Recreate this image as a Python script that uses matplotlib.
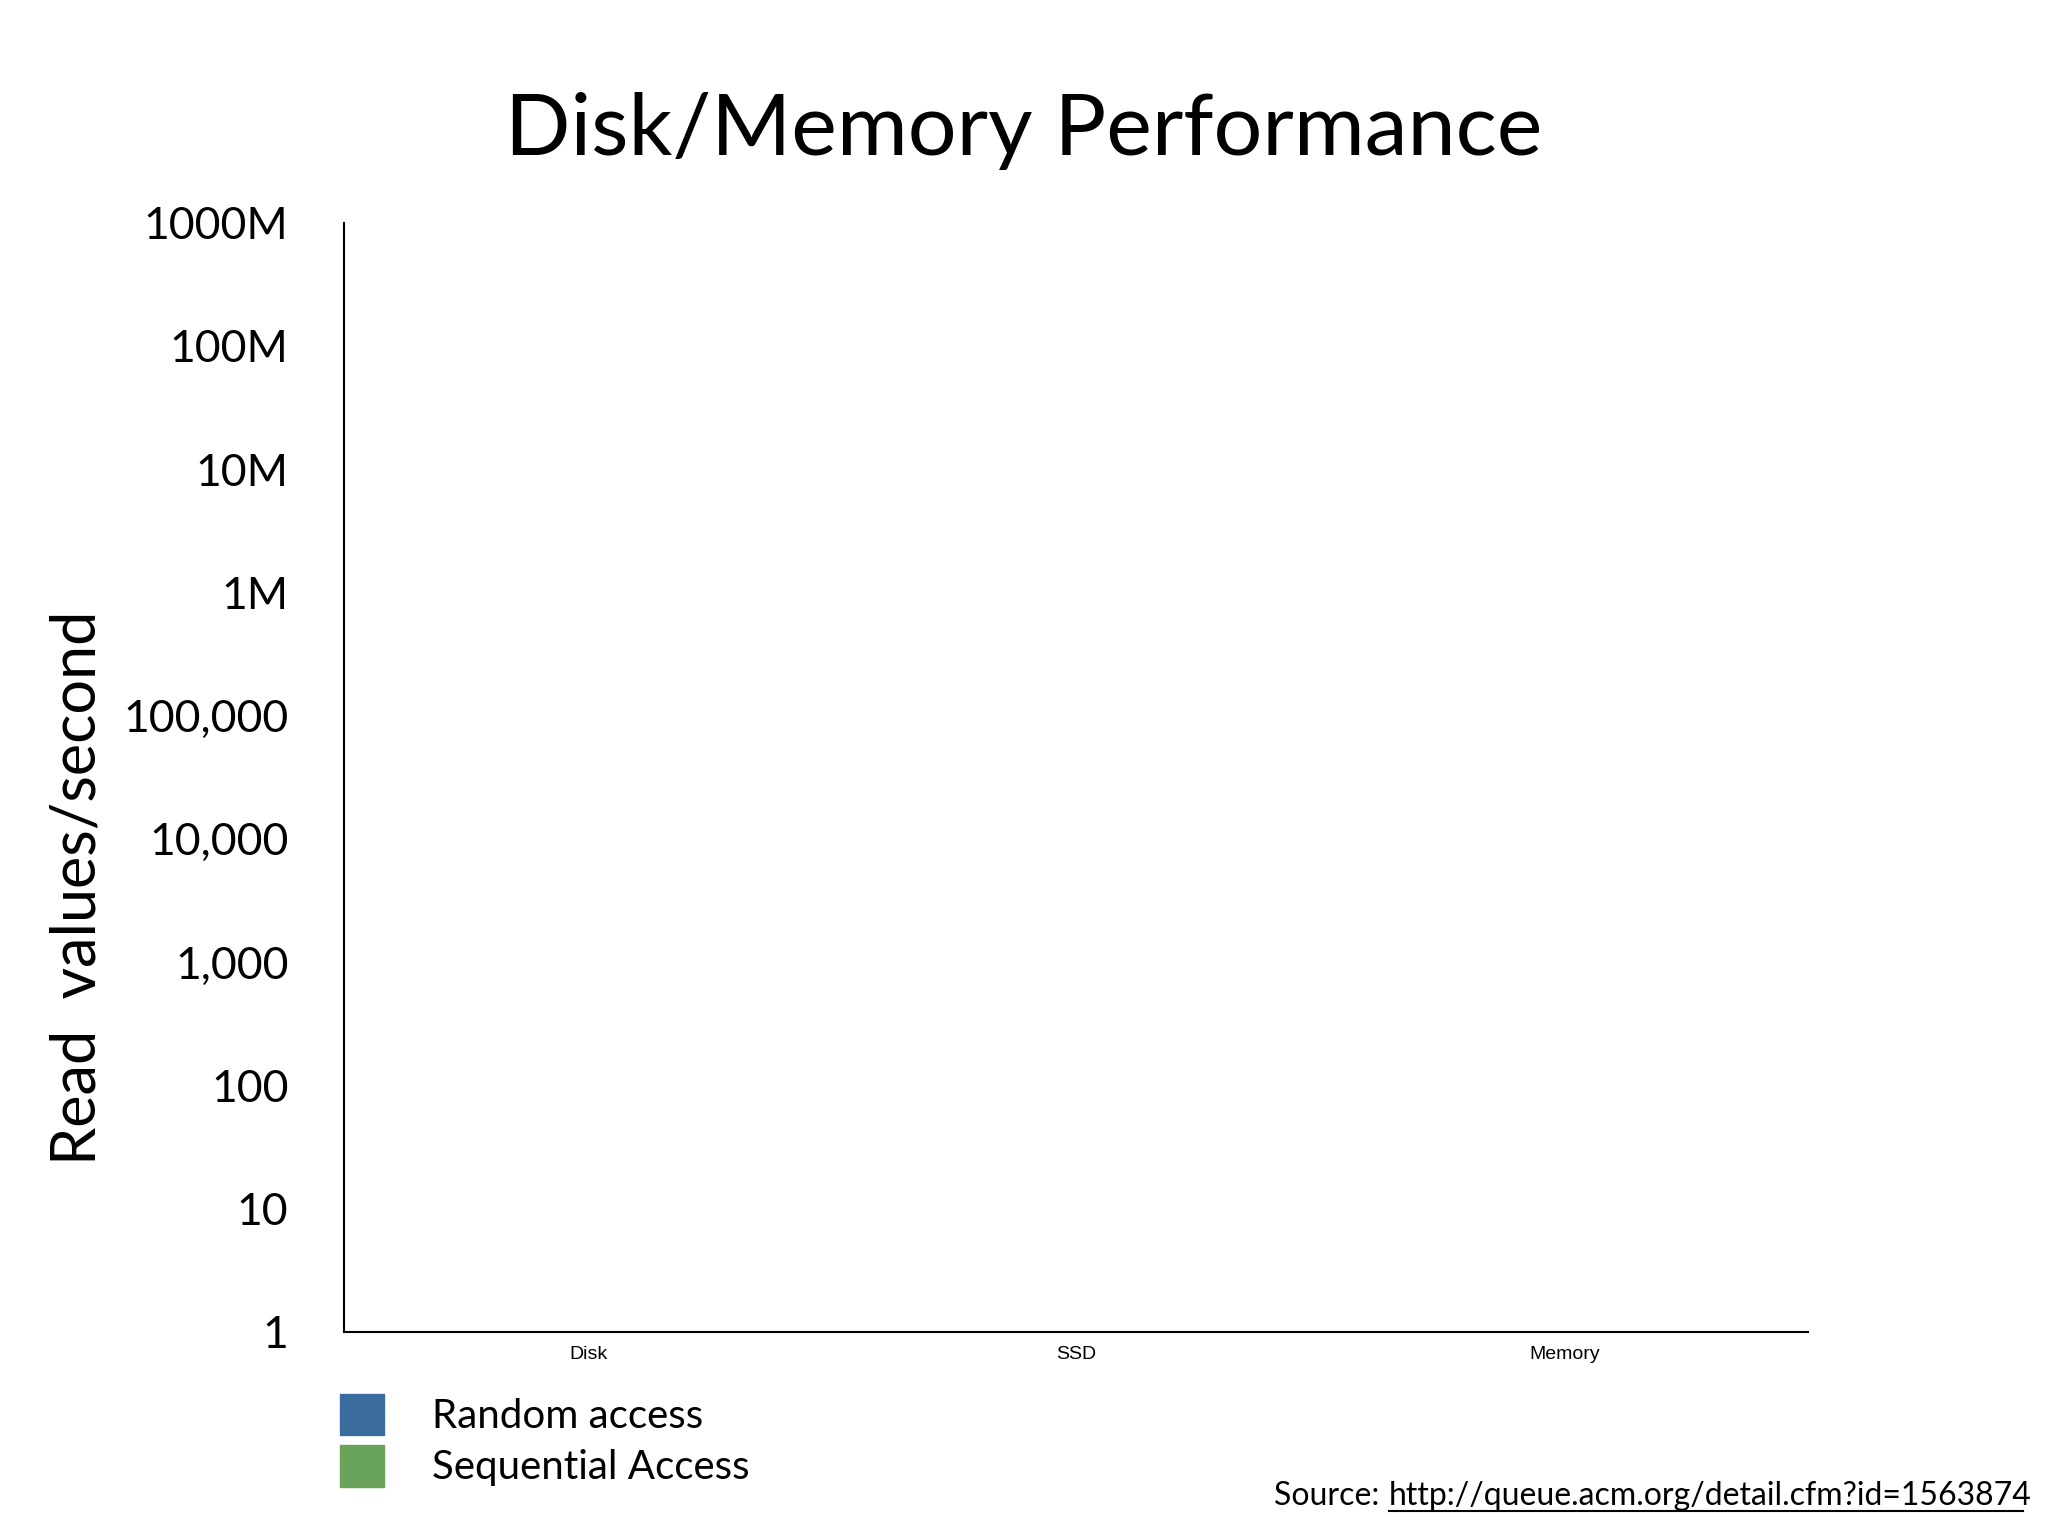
import matplotlib.pyplot as plt
import matplotlib.patches as mpatches
import numpy as np

categories = ['Disk', 'SSD', 'Memory']
# the reference chart shows no bars, so both series are empty
random_access = []
sequential_access = []
series_names = ['Random access', 'Sequential Access']
series_colors = ['#3a6c9e', '#6aa35a']
tick_values = [1, 10, 100, 1e3, 1e4, 1e5, 1e6, 1e7, 1e8, 1e9]
tick_labels = ['1', '10', '100', '1,000', '10,000', '100,000', '1M', '10M', '100M', '1000M']

plt.rcParams['font.family'] = ['Lato', 'DejaVu Sans']

fig = plt.figure(figsize=(20.48, 15.36), dpi=100)
ax = fig.add_axes([0.168, 0.133, 0.715, 0.722])

x = np.arange(len(categories))
w = 0.35
if random_access:
    ax.bar(x - w / 2, random_access, w, color=series_colors[0])
if sequential_access:
    ax.bar(x + w / 2, sequential_access, w, color=series_colors[1])

ax.set_yscale('log')
ax.set_ylim(1, 1e9)
ax.set_xlim(-0.5, len(categories) - 0.5)
ax.set_yticks(tick_values)
ax.set_yticklabels(tick_labels, fontsize=32)
ax.yaxis.set_minor_locator(plt.NullLocator())
ax.set_xticks(x)
ax.set_xticklabels(categories, fontsize=14, family='Liberation Sans')
ax.tick_params(axis='both', length=0)
ax.tick_params(axis='y', pad=40)
ax.tick_params(axis='x', pad=10)
for s in ['top', 'right']:
    ax.spines[s].set_visible(False)
for s in ['left', 'bottom']:
    ax.spines[s].set_linewidth(1.5)

fig.text(0.5, 0.915, 'Disk/Memory Performance', ha='center', va='center', fontsize=62)
fig.text(0.038, 0.422, 'Read  values/second', rotation=90, ha='center', va='center', fontsize=44)

handles = [mpatches.Patch(color=c, label=n) for c, n in zip(series_colors, series_names)]
fig.legend(handles=handles, loc='upper left', bbox_to_anchor=(0.158, 0.103),
           frameon=False, fontsize=29, handlelength=1.1, handleheight=1.2,
           handletextpad=1.2, labelspacing=0.25, borderaxespad=0)

t = fig.text(0.622, 0.026, 'Source: ', ha='left', va='center', fontsize=23)
fig.text(0.678, 0.026, 'http://queue.acm.org/detail.cfm?id=1563874', ha='left', va='center',
         fontsize=23)
fig.add_artist(plt.Line2D([0.678, 0.988], [0.016, 0.016], color='black', lw=1.5))

fig.savefig('out.png', dpi=100)
